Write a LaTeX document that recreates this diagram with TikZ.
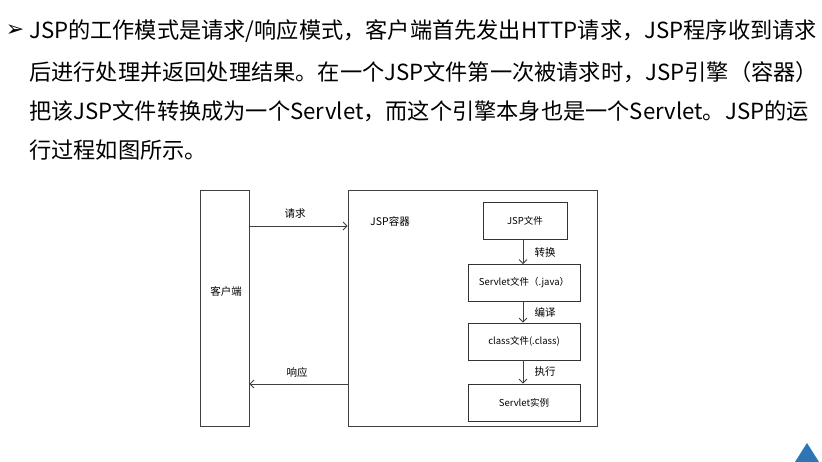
\documentclass[tikz,border=0pt]{standalone}
\usepackage{fontspec}
\setmainfont{Noto Sans CJK SC}
\newfontfamily\symfont{DejaVu Sans}
\usetikzlibrary{arrows.meta}
\definecolor{tri}{HTML}{2E75B6}
\begin{document}
\begin{tikzpicture}[x=1pt,y=-1pt,
  para/.style={anchor=west,inner sep=0pt,font=\fontsize{22.2}{22}\selectfont},
  frame/.style={draw=black!75,line width=0.8pt},
  box/.style={draw=black!80,line width=0.8pt,minimum width=112pt,minimum height=37pt,inner sep=0pt,font=\fontsize{9.5}{10}\selectfont},
  lbl/.style={inner sep=0pt,font=\fontsize{10.5}{11}\selectfont},
  arr/.style={draw=black!75,line width=0.8pt,-{Straight Barb[length=4pt,width=8pt]}}]
\useasboundingbox (0,0) rectangle (822,462);
% text
\node[anchor=center,inner sep=0pt,font=\symfont\fontsize{22}{22}\selectfont] (bul) at (15,31) {➢};
\node[para] (l1) at (29,31) {JSP的工作模式是请求/响应模式，客户端首先发出HTTP请求，JSP程序收到请求};
\node[para] (l2) at (29,72) {后进行处理并返回处理结果。在一个JSP文件第一次被请求时，JSP引擎（容器）};
\node[para] (l3) at (29,111) {把该JSP文件转换成为一个Servlet，而这个引擎本身也是一个Servlet。JSP的运};
\node[para] (l4) at (29,150) {行过程如图所示。};
% frames
\node[frame,minimum width=49pt,minimum height=236pt,inner sep=0pt] (client) at (224.5,308) {};
\node[lbl] (clientl) at (226,291) {客户端};
\node[frame,minimum width=249pt,minimum height=236pt,inner sep=0pt] (cont) at (472.5,308) {};
\node[lbl] (contl) at (390,221) {JSP容器};
% boxes
\node[box,minimum width=84pt] (jsp) at (525,220.5) {JSP文件};
\node[box] (servlet) at (524,283) {Servlet文件（.java）};
\node[box] (cls) at (524,341.5) {class文件(.class)};
\node[box] (inst) at (524,402.5) {Servlet实例};
% arrows
\coordinate (rq1) at (client.east |- 0,226);
\coordinate (rq2) at (cont.west |- 0,226);
\draw[arr] (rq1) -- (rq2);
\node[lbl] (rql) at (295,214) {请求};
\coordinate (rs1) at (cont.west |- 0,384);
\coordinate (rs2) at (client.east |- 0,384);
\draw[arr] (rs1) -- (rs2);
\node[lbl] (rsl) at (297,373) {响应};
\draw[arr] (jsp.south -| 523,0) -- (servlet.north -| 523,0);
\node[lbl] (t1) at (545,253) {转换};
\draw[arr] (servlet.south -| 523,0) -- (cls.north -| 523,0);
\node[lbl] (t2) at (545,312) {编译};
\draw[arr] (cls.south -| 523,0) -- (inst.north -| 523,0);
\node[lbl] (t3) at (545,372) {执行};
% triangle
\fill[tri] (795,462) -- (807,443) -- (819,462) -- cycle;
\end{tikzpicture}
\end{document}
